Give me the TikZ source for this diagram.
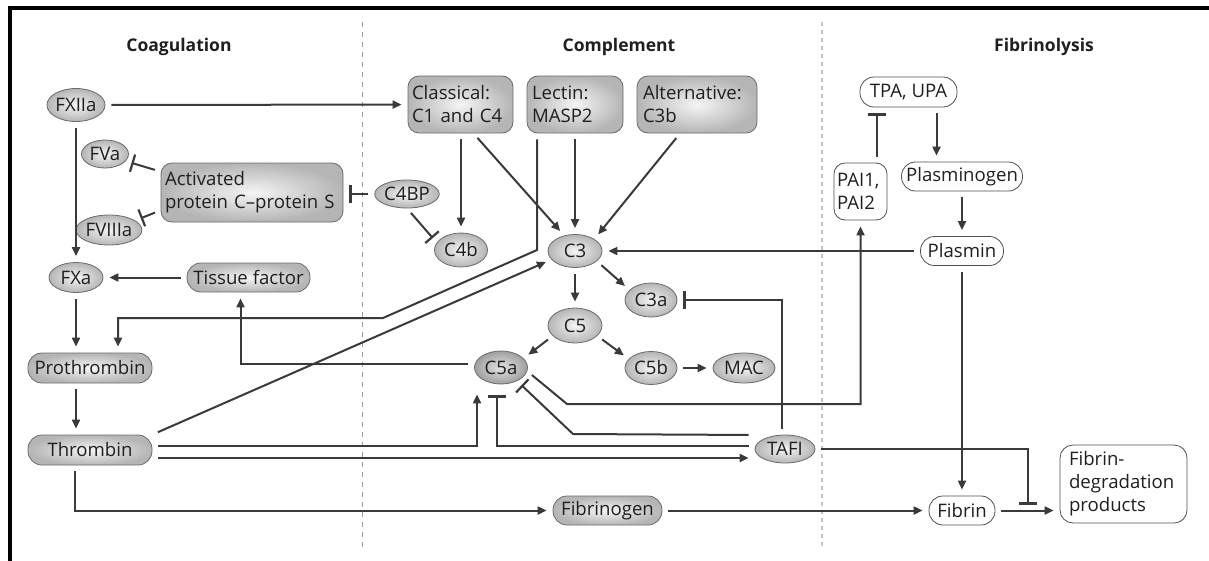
\documentclass[tikz,border=0pt]{standalone}
\usepackage{fontspec}
\setmainfont{Open Sans}
\usetikzlibrary{arrows.meta,shapes.geometric,calc}
\definecolor{linec}{HTML}{3A3A3A}
\definecolor{edgec}{HTML}{6A6A6A}
\definecolor{boxedge}{HTML}{505050}
\tikzset{
  conn/.style={draw=linec, line width=2pt, shorten <=6pt, shorten >=6pt},
  arr/.style={conn, -{Triangle[length=9pt,width=8pt]}},
  inh/.style={conn, -{Bar[width=18pt,line width=2.2pt]}},
  txt/.style={font=\fontsize{18.6}{23}\selectfont, text=black!88, inner sep=0pt},
  gfill/.style={draw=edgec, line width=0.8pt, shading=radial, inner color=gray!8, outer color=gray!58},
  gell/.style={txt, gfill, ellipse},
  dell/.style={gell, outer color=gray!75, inner color=gray!22},
  gpill/.style={txt, gfill, rectangle, rounded corners=14pt},
  gbox/.style={txt, gfill, rectangle, rounded corners=11pt, align=left, inner xsep=6pt},
  wpill/.style={txt, draw=boxedge, line width=0.8pt, fill=white, rectangle, rounded corners=14pt},
  wbox/.style={txt, draw=boxedge, line width=0.8pt, fill=white, rectangle, rounded corners=13pt, align=left},
  head/.style={font=\fontsize{17.5}{20}\selectfont\bfseries, text=black!88, inner sep=0pt},
}
\begin{document}
\begin{tikzpicture}[x=1pt, y=-1pt]
\useasboundingbox (0,0) rectangle (1209,560);
% frame on the top and left
\draw[line width=4pt, line cap=rect] (9.5,560) -- (9.5,8) -- (1209,8);
% column separators
\draw[gray!80, line width=1pt, dash pattern=on 5pt off 5pt] (362,22) -- (362,550);
\draw[gray!45, line width=1.3pt, dash pattern=on 4pt off 4pt] (822,22) -- (822,550);

% column headings
\node[head] (hcoag) at (179,47) {Coagulation};
\node[head] (hcomp) at (619,47) {Complement};
\node[head] (hfib)  at (1044,47) {Fibrinolysis};

% coagulation
\node[gell, minimum width=54pt, minimum height=33pt] (fxiia) at (76,105) {FXIIa};
\node[gell, minimum width=47pt, minimum height=28pt] (fva) at (105,154) {FVa};
\node[gbox, minimum width=182pt, minimum height=59pt, text width=174pt, inner xsep=4pt] (apc) at (252,192.5) {Activated\\protein C--protein S};
\node[gell, minimum width=55pt, minimum height=30pt] (fviiia) at (109,230) {FVIIIa};
\node[gell, minimum width=54pt, minimum height=30pt] (fxa) at (76,277.5) {FXa};
\node[gpill, minimum width=123pt, minimum height=29pt] (tf) at (248.5,277.5) {Tissue factor};
\node[gpill, minimum width=124pt, minimum height=30pt] (pro) at (90,368) {Prothrombin};
\node[gpill, minimum width=124pt, minimum height=30pt] (thr) at (90,450) {Thrombin};
\node[gpill, minimum width=109pt, minimum height=29pt] (fbg) at (607.5,510.5) {Fibrinogen};

% complement
\node[gbox, minimum width=105pt, minimum height=57pt, text width=97pt, inner xsep=4pt] (cls) at (460.5,104.5) {Classical:\\C1 and C4};
\node[gbox, minimum width=96pt, minimum height=57pt, text width=86pt, inner xsep=5pt] (lec) at (575,104.5) {Lectin:\\MASP2};
\node[gbox, minimum width=120pt, minimum height=57pt, text width=108pt] (alt) at (697,104.5) {Alternative:\\C3b};
\node[gell, minimum width=60pt, minimum height=28pt] (c4bp) at (407,194) {C4BP};
\node[gell, minimum width=53pt, minimum height=34pt] (c4b) at (461,250) {C4b};
\node[gell, minimum width=54pt, minimum height=33pt] (c3) at (575,251) {C3};
\node[gell, minimum width=52pt, minimum height=34pt] (c3a) at (651,300) {C3a};
\node[gell, minimum width=54pt, minimum height=35pt] (c5) at (575,325.5) {C5};
\node[dell, minimum width=53pt, minimum height=33pt] (c5a) at (501,367.5) {C5a};
\node[gell, minimum width=52pt, minimum height=33pt] (c5b) at (651,368) {C5b};
\node[gell, minimum width=62pt, minimum height=30pt] (mac) at (744,368) {MAC};
\node[gell, minimum width=60pt, minimum height=28pt] (tafi) at (785,449) {TAFI};

% fibrinolysis
\node[wpill, minimum width=97pt, minimum height=30pt] (tpa) at (908.5,92) {TPA, UPA};
\node[wbox, minimum width=53pt, minimum height=57pt, text width=47pt, inner xsep=3pt, rounded corners=11pt] (pai) at (860.5,191.5) {PAI1,\\PAI2};
\node[wpill, minimum width=121pt, minimum height=29pt] (plg) at (962,176.5) {Plasminogen};
\node[wpill, minimum width=83pt, minimum height=29pt] (pla) at (962,251) {Plasmin};
\node[wpill, minimum width=66pt, minimum height=29pt] (fib) at (962,510.5) {Fibrin};
\node[wbox, minimum width=127pt, minimum height=78pt, text width=109pt, inner xsep=9pt] (fdp) at (1123.5,484) {Fibrin-\\degradation\\products};

% bend points
\coordinate (lk1) at (537,250);
\coordinate (lk2) at (383,318);
\coordinate (pk) at (567,404);
\coordinate (tk) at (573,434);

% coagulation cascade
\draw[arr] (fxiia) -- (cls);
\draw[arr] (fxiia) -- (fxa);
\draw[arr] (tf) -- (fxa);
\draw[arr] (fxa.south) -- (fxa.south |- pro.north);
\draw[arr] (pro.south -| fxa) -- (thr.north -| fxa);
\draw[inh] ([yshift=-9pt]apc.north west) -- (fva.-19);
\draw[inh] ([yshift=12pt]apc.south west) -- (fviiia.20);
\draw[inh] (c4bp.west) -- (c4bp.west -| apc.east);
\draw[inh] (c4bp.south) -- (c4b.163);
\draw[arr] ([xshift=-15pt]thr.south) |- (fbg.west);
\draw[arr] (fbg) -- (fib);

% complement activation
\draw[arr] (cls.south -| c4b) -- (c4b.north);
\draw[arr] ([xshift=13pt]cls.south) -- (c3.125);
\draw[arr] (lec.south) -- (c3.north);
\draw[arr] ([xshift=-17pt]alt.south) -- (c3.north east);
\draw[arr] (lec.south -| lk1) -- (lk1) -- (lk2) -| ([xshift=28pt]pro.north);
\draw[arr] (thr.north east) -- (c3.200);
\draw[arr] (c3) -- (c5);
\draw[arr] (c3.-25) -- (c3a.155);
\draw[arr] (c5.205) -- (c5a.22);
\draw[arr] (c5.-25) -- (c5b.158);
\draw[arr] (c5b) -- (mac);
\draw[arr] ([yshift=4pt]c5a.west) -| ([xshift=-8pt]tf.south);
\draw[arr] (c5a.-8) -- (pk) -| (pai.south);

% thrombin and TAFI
\draw[arr, shorten >=10pt] ([yshift=4pt]thr.east) -| ([xshift=-24pt]c5a.south);
\draw[arr] ([yshift=-8pt]thr.east) -- ([yshift=-9pt]tafi.west);
\draw[inh, shorten >=11pt] ([yshift=3pt]tafi.west) -| ([xshift=-4pt]c5a.south);
\draw[inh] ([yshift=14pt]tafi.west) -- (tk) -- (c5a.-40);
\draw[inh] ([xshift=-3pt]tafi.north) |- (c3a.east);

% fibrinolysis
\draw[arr] ([xshift=28pt]tpa.south) -- ([xshift=28pt]tpa.south |- plg.north);
\draw[inh] ([xshift=16.5pt]pai.north) -- ([xshift=16.5pt]pai.north |- tpa.south);
\draw[arr] (plg) -- (pla);
\draw[arr] (pla) -- (c3);
\draw[arr] (pla) -- (fib);
\draw[arr] (fib.east) -- coordinate[pos=0.5] (fx) (fdp.west |- fib.east);
\draw[inh] (tafi.east) -| (fx);
\end{tikzpicture}
\end{document}
